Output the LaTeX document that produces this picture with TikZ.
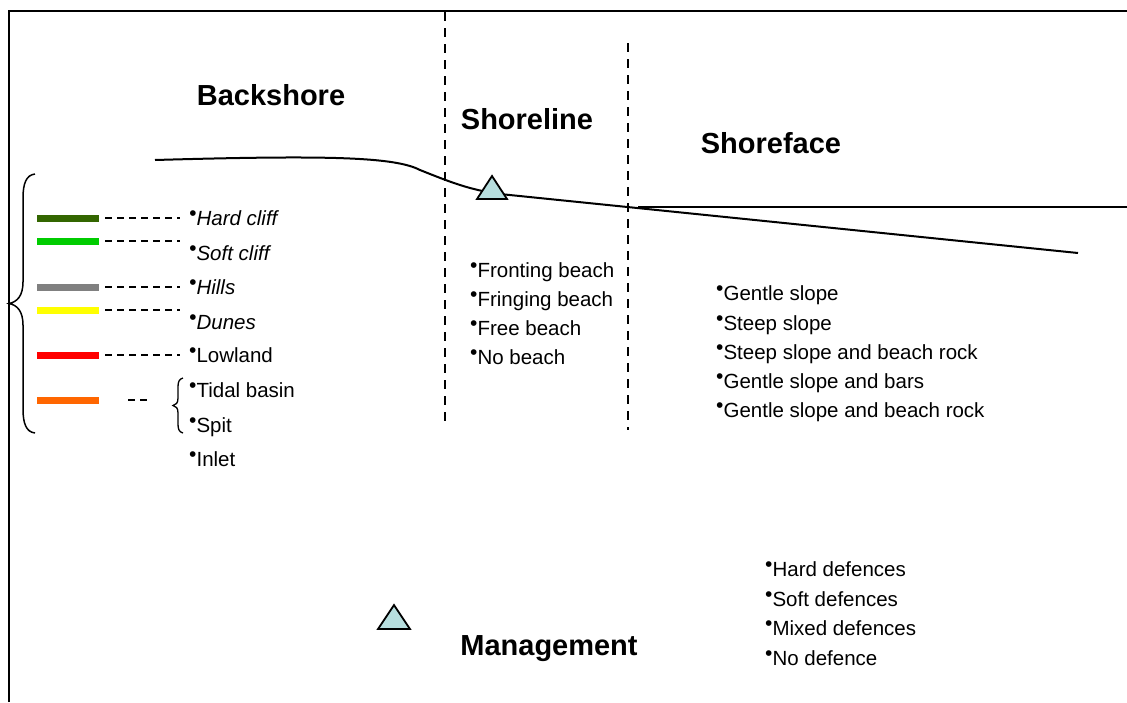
\documentclass[tikz,border=0pt]{standalone}
\usepackage{fontspec}
\setmainfont{Liberation Sans}
\newcommand{\bul}{\raisebox{5pt}{\fontsize{21}{21}\selectfont •}}
\begin{document}
\begin{tikzpicture}[x=1pt,y=-1pt,
  item/.style={anchor=base west,inner sep=0pt,font=\fontsize{20.5}{24}\selectfont},
  ititem/.style={item,font=\fontsize{20.5}{24}\selectfont\itshape},
  title/.style={anchor=base,inner sep=0pt,font=\fontsize{29}{32}\selectfont\bfseries},
  bar/.style={line width=7pt},
  leader/.style={dashed,line width=1.2pt,dash pattern=on 7pt off 5pt},
  sep/.style={line width=1.3pt,dash pattern=on 9pt off 7pt},
  curve/.style={line width=2pt},
  marker/.style={fill={rgb,255:red,183;green,222;blue,222},draw=black,line width=1.8pt,line join=miter}
]
\useasboundingbox (0,0) rectangle (1127,702);
% frame
\draw[line width=2pt] (9,702) -- (9,11) -- (1127,11);
% vertical separators
\coordinate (s1t) at (445,12); \coordinate (s1b) at (445,425);
\coordinate (s2t) at (628,43); \coordinate (s2b) at (628,430);
\draw[sep] (s1t) -- (s1b);
\draw[sep] (s2t) -- (s2b);
% titles
\node[title] (tb) at (271,105) {Backshore};
\node[title] (tsl) at (527,129) {Shoreline};
\node[title] (tsf) at (771,153) {Shoreface};
\node[title] (tm) at (549,655) {Management};
% profile curve
\coordinate (c0) at (155,160);
\coordinate (c1) at (420,170);
\coordinate (c2) at (500,194);
\coordinate (c3) at (1078,253);
\draw[curve] (c0) .. controls (330,155) and (395,157) .. (c1) .. controls (450,182) and (470,190) .. (c2) -- (c3);
\coordinate (h0) at (638,207); \coordinate (h1) at (1127,207);
\draw[curve] (h0) -- (h1);
% markers
\draw[marker] (477,199) -- (492,176) -- (507,199) -- cycle;
\draw[marker] (378,629) -- (394,605) -- (410,629) -- cycle;
% big brace
\draw[line width=1.5pt] (35,174) .. controls (26,175) and (23,184) .. (23,198) -- (23,282) .. controls (23,296) and (17,302) .. (9,303.5)
  .. controls (17,305) and (23,311) .. (23,325) -- (23,409) .. controls (23,423) and (26,432) .. (35,433);
% color bars
\foreach \n/\y/\c in {a/218/{rgb,255:red,51;green,102;blue,0},b/241/{rgb,255:red,0;green,204;blue,0},c/287/{rgb,255:red,128;green,128;blue,128},d/310/{rgb,255:red,255;green,255;blue,0},e/355/{rgb,255:red,255;green,0;blue,0},f/400/{rgb,255:red,255;green,102;blue,0}}{
  \coordinate (bar\n l) at (37,\y); \coordinate (bar\n r) at (99,\y);
  \draw[bar,color=\c] (bar\n l) -- (bar\n r);
}
% leaders
\foreach \n/\y in {a/218,b/241,c/287,d/310,e/355}{
  \coordinate (ld\n s) at (105,\y); \coordinate (ld\n e) at (180,\y);
  \draw[leader] (ld\n s) -- (ld\n e);
}
\coordinate (ldfs) at (128,400); \coordinate (ldfe) at (150,400);
\draw[leader] (ldfs) -- (ldfe);
% small brace
\draw[line width=1.3pt] (183,378) .. controls (179,379) and (178,382) .. (178,387) -- (178,398) .. controls (178,403) and (176,405) .. (173,405.5)
  .. controls (176,406) and (178,408) .. (178,413) -- (178,424) .. controls (178,429) and (179,432) .. (183,433);
% backshore items
\node[ititem] (hc) at (189,225) {\bul Hard cliff};
\node[ititem] (sc) at (189,260) {\bul Soft cliff};
\node[ititem] (hi) at (189,294) {\bul Hills};
\node[ititem] (du) at (189,329) {\bul Dunes};
\node[item] (lo) at (189,362) {\bul Lowland};
\node[item] (tbas) at (189,397) {\bul Tidal basin};
\node[item] (sp) at (189,432) {\bul Spit};
\node[item] (in) at (189,466) {\bul Inlet};
% shoreline items
\node[item] (f1) at (470,277) {\bul Fronting beach};
\node[item] (f2) at (470,306) {\bul Fringing beach};
\node[item] (f3) at (470,335) {\bul Free beach};
\node[item] (f4) at (470,364) {\bul No beach};
% shoreface items
\node[item] (g1) at (716,300) {\bul Gentle slope};
\node[item] (g2) at (716,330) {\bul Steep slope};
\node[item] (g3) at (716,359) {\bul Steep slope and beach rock};
\node[item] (g4) at (716,388) {\bul Gentle slope and bars};
\node[item] (g5) at (716,417) {\bul Gentle slope and beach rock};
% management items
\node[item] (m1) at (765,576) {\bul Hard defences};
\node[item] (m2) at (765,606) {\bul Soft defences};
\node[item] (m3) at (765,635) {\bul Mixed defences};
\node[item] (m4) at (765,665) {\bul No defence};
\end{tikzpicture}
\end{document}
